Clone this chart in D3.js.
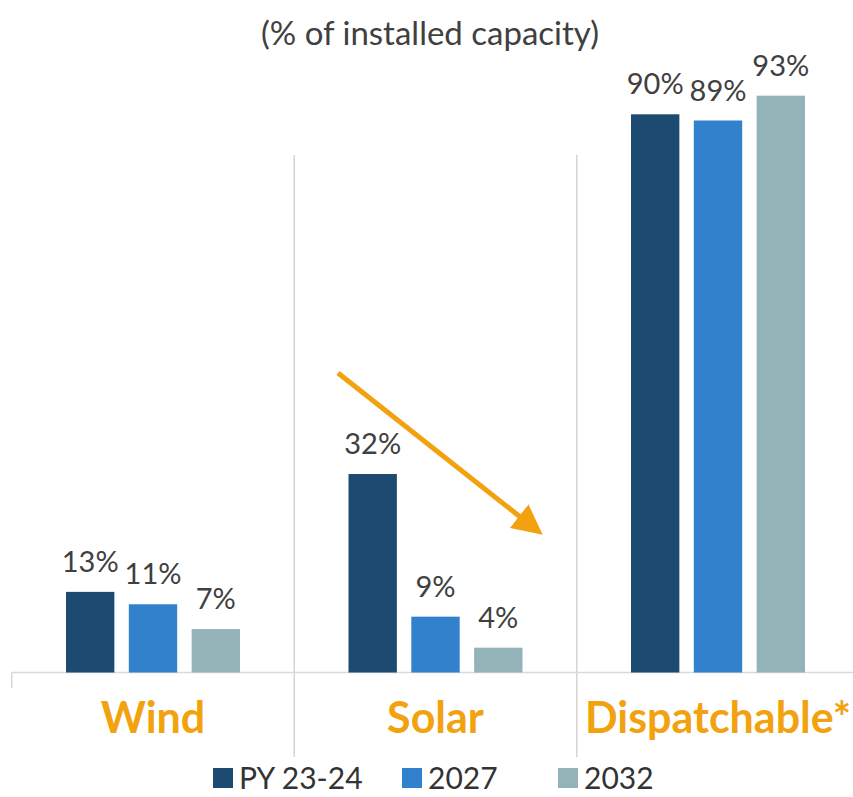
<!DOCTYPE html>
<html>
<head>
<meta charset="utf-8">
<script src="https://cdn.jsdelivr.net/npm/d3@7"></script>
<style>
  html, body { margin: 0; padding: 0; background: #fff; }
  svg { display: block; font-family: Lato, "Open Sans", sans-serif; }
</style>
</head>
<body>
<svg id="chart" width="853" height="797"></svg>
<script>
const categories = ["Wind", "Solar", "Dispatchable*"];
const seriesNames = ["PY 23-24", "2027", "2032"];
const valuesPY2324 = [13, 32, 90];
const values2027 = [11, 9, 89];
const values2032 = [7, 4, 93];
const seriesColors = ["#1d4a70", "#3181cc", "#93b3b9"];
const title = "(% of installed capacity)";

const seriesValues = [valuesPY2324, values2027, values2032];
const data = categories.map((c, i) => ({
  category: c,
  bars: seriesNames.map((s, j) => ({ series: s, value: seriesValues[j][i], color: seriesColors[j] }))
}));

const svg = d3.select("#chart");
const baseY = 672.5;

const x0 = d3.scaleBand().domain(categories).range([11.75, 859.25]).padding(0);
const x1 = d3.scaleBand().domain(seriesNames).range([-87, 87]).paddingInner(0.23).paddingOuter(0);
const y = d3.scaleLinear().domain([0, 90]).range([baseY, 114.3]);

// title
svg.append("text")
  .attr("x", 430).attr("y", 45)
  .attr("text-anchor", "middle")
  .attr("font-size", 33)
  .attr("fill", "#404040")
  .text(title);

// separators
const seps = categories.slice(1).map(c => x0(c));
svg.selectAll("line.sep").data(seps).enter().append("line")
  .attr("class", "sep")
  .attr("x1", d => d).attr("x2", d => d)
  .attr("y1", 155).attr("y2", 757)
  .attr("stroke", "#d4d4d4").attr("stroke-width", 1.5);

// baseline + left tick
svg.append("line")
  .attr("x1", 11.75).attr("x2", 853)
  .attr("y1", baseY).attr("y2", baseY)
  .attr("stroke", "#d9d9d9").attr("stroke-width", 1.5);
svg.append("line")
  .attr("x1", 11.75).attr("x2", 11.75)
  .attr("y1", baseY).attr("y2", 688)
  .attr("stroke", "#d9d9d9").attr("stroke-width", 1.5);

// bars
const groups = svg.selectAll("g.grp").data(data).enter().append("g")
  .attr("class", "grp")
  .attr("transform", d => `translate(${x0(d.category) + x0.bandwidth() / 2},0)`);

groups.selectAll("rect").data(d => d.bars).enter().append("rect")
  .attr("x", d => x1(d.series))
  .attr("width", x1.bandwidth())
  .attr("y", d => y(d.value))
  .attr("height", d => baseY - y(d.value))
  .attr("fill", d => d.color);

groups.selectAll("text.val").data(d => d.bars).enter().append("text")
  .attr("class", "val")
  .attr("x", d => x1(d.series) + x1.bandwidth() / 2)
  .attr("y", d => y(d.value) - 20)
  .attr("text-anchor", "middle")
  .attr("font-size", 29)
  .attr("fill", "#404040")
  .text(d => d.value + "%");

// category labels
svg.selectAll("text.cat").data(categories).enter().append("text")
  .attr("class", "cat")
  .attr("x", d => x0(d) + x0.bandwidth() / 2)
  .attr("y", 733)
  .attr("text-anchor", "middle")
  .attr("font-size", 43)
  .attr("font-weight", "bold")
  .attr("fill", "#f2a20f")
  .text(d => d);

// arrow
const defs = svg.append("defs");
defs.append("marker")
  .attr("id", "arrowhead")
  .attr("viewBox", "0 0 10 10")
  .attr("refX", 8).attr("refY", 5)
  .attr("markerWidth", 6).attr("markerHeight", 6)
  .attr("markerUnits", "strokeWidth")
  .attr("orient", "auto")
  .append("path").attr("d", "M0,0 L10,5 L0,10 z").attr("fill", "#f2a20f");
svg.append("line")
  .attr("x1", 338).attr("y1", 373)
  .attr("x2", 538).attr("y2", 531)
  .attr("stroke", "#f2a20f").attr("stroke-width", 5)
  .attr("marker-end", "url(#arrowhead)");

// legend
const legendX = [213, 402, 558];
const legend = svg.selectAll("g.leg").data(seriesNames).enter().append("g")
  .attr("class", "leg")
  .attr("transform", (d, i) => `translate(${legendX[i]},768)`);
legend.append("rect")
  .attr("width", 20).attr("height", 20)
  .attr("fill", (d, i) => seriesColors[i]);
legend.append("text")
  .attr("x", 26).attr("y", 21)
  .attr("font-size", 30)
  .attr("fill", "#333")
  .text(d => d);
</script>
</body>
</html>
